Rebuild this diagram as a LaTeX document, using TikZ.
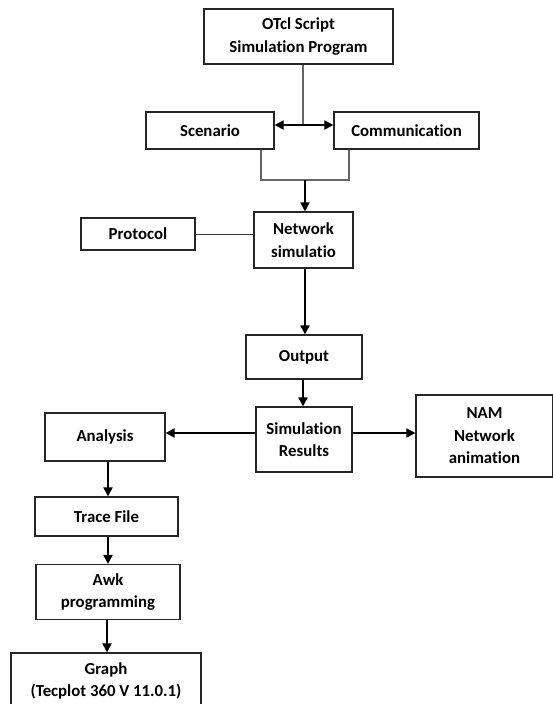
\documentclass[tikz,border=0pt]{standalone}
\usepackage{fontspec}
\setmainfont[Ligatures=NoCommon,RawFeature={-liga}]{Carlito}
\usetikzlibrary{arrows.meta,calc}
\begin{document}
\begin{tikzpicture}[x=1pt,y=-1pt,
  every node/.style={font=\bfseries\fontsize{16.8}{22.5}\selectfont},
  box/.style={draw=black!85,line width=1.1pt,align=center,inner sep=0pt},
  arr/.style={line width=1.8pt,-{Triangle[length=9pt,width=9pt]}},
  dbl/.style={line width=1.8pt,{Triangle[length=9pt,width=9pt]}-{Triangle[length=9pt,width=9pt]}},
  link/.style={line width=1.1pt,draw=black!60}]
\clip (0,0) rectangle (553,704);
\fill[white] (0,0) rectangle (553,704);
\node[box,minimum width=189,minimum height=55] (otcl) at (298.5,36.5) {OTcl Script\\Simulation Program};
\node[box,minimum width=128,minimum height=37] (scen) at (210,130.5) {Scenario};
\node[box,minimum width=145,minimum height=37] (comm) at (406.5,130.5) {Communication};
\node[box,minimum width=99,minimum height=56] (net) at (303.5,240) {Network\\simulatio};
\node[box,minimum width=114,minimum height=32] (proto) at (138,234) {Protocol};
\node[box,minimum width=116,minimum height=44] (out) at (304,357) {Output};
\node[box,minimum width=96,minimum height=65] (sim) at (304,439.5) {Simulation\\Results};
\node[box,minimum width=120,minimum height=48] (anal) at (105,437) {Analysis};
\node[box,minimum width=137,minimum height=82] (nam) at (484.5,436) {NAM\\Network\\animation};
\node[box,minimum width=143,minimum height=39] (trace) at (106.5,516.5) {Trace File};
\node[box,minimum width=144,minimum height=55] (awk) at (108,592) {Awk\\programming};
\node[box,minimum width=190,minimum height=56] (graph) at (106,681) {Graph\\(Tecplot 360 V 11.0.1)};
\coordinate (mid) at (303,125);
\coordinate (jl) at (261,180);
\coordinate (jr) at (349,180);
\coordinate (jm) at (305,180);
\draw[link] (otcl.south -| mid) -- (mid);
\draw[dbl] (scen.east |- mid) -- (comm.west |- mid);
\draw[link] (scen.south -| jl) -- (jl) -- (jr) -- (comm.south -| jr);
\draw[arr] (jm) -- (net.north -| jm);
\draw[line width=1pt,black!80] (proto.east) -- (net.west |- proto.east);
\draw[arr] (net.south -| jm) -- (out.north -| jm);
\draw[arr] (out.south -| 303,0) -- (sim.north -| 303,0);
\draw[arr] (sim.west |- 0,433) -- (anal.east |- 0,433);
\draw[arr] (sim.east |- 0,433) -- (nam.west |- 0,433);
\draw[arr] (anal.south -| 108,0) -- (trace.north -| 108,0);
\draw[arr] (trace.south -| 108,0) -- (awk.north -| 108,0);
\draw[arr] (awk.south -| 107,0) -- (graph.north -| 107,0);
\end{tikzpicture}
\end{document}
